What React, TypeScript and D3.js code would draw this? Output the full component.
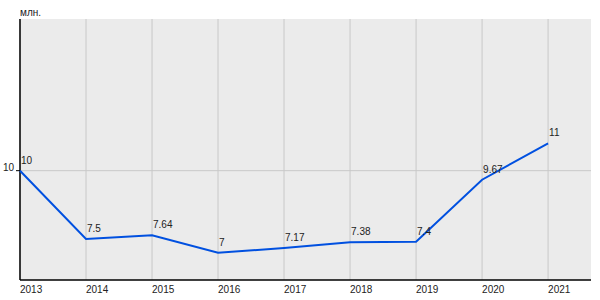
import React from "react";
import * as d3 from "d3";

const years = [2013, 2014, 2015, 2016, 2017, 2018, 2019, 2020, 2021];
const values = [10, 7.5, 7.64, 7, 7.17, 7.38, 7.4, 9.67, 11];
const valueLabels = ["10", "7.5", "7.64", "7", "7.17", "7.38", "7.4", "9.67", "11"];
const yTicks = [10];
const unitLabel = "млн.";

export default function App() {
  const W = 600, H = 300;
  const left = 20, right = 591, top = 19, bottom = 280;
  const x = d3.scaleLinear().domain([2013, 2021.65]).range([left, right]);
  const y = d3.scaleLinear().domain([6, 15.55]).range([bottom, top]);
  const line = d3.line<number>().x((_, i) => x(years[i])).y((d) => y(d));
  const font = "Arial, 'Liberation Sans', sans-serif";
  return (
    <svg width={W} height={H} style={{ position: "absolute", left: 0, top: 0 }} fontFamily={font}>
      <rect x={0} y={0} width={W} height={H} fill="#fff" />
      <rect x={left} y={top} width={right - left} height={bottom - top} fill="#ebebeb" />
      {years.map((yr) => (
        <line key={yr} x1={x(yr)} x2={x(yr)} y1={top} y2={bottom} stroke="#c8c8c8" strokeWidth={1} />
      ))}
      {yTicks.map((t) => (
        <line key={t} x1={left} x2={right} y1={y(t)} y2={y(t)} stroke="#c8c8c8" strokeWidth={1} />
      ))}
      <line x1={left} x2={left} y1={top} y2={bottom} stroke="#000" strokeWidth={1.5} />
      <line x1={left} x2={right} y1={bottom} y2={bottom} stroke="#000" strokeWidth={1.5} />
      {yTicks.map((t) => (
        <g key={t}>
          <line x1={left - 4} x2={left} y1={y(t)} y2={y(t)} stroke="#000" strokeWidth={1} />
          <text x={left - 6} y={y(t) - 0} textAnchor="end" fontSize={10} fill="#222">{t}</text>
        </g>
      ))}
      {years.map((yr) => (
        <text key={yr} x={x(yr)} y={bottom + 13} fontSize={10} fill="#222">{yr}</text>
      ))}
      <text x={left} y={16} fontSize={10} fill="#222">{unitLabel}</text>
      <path d={line(values) || ""} fill="none" stroke="#0050e0" strokeWidth={2} />
      {values.map((v, i) => (
        <text key={i} x={x(years[i]) + 1} y={y(v) - 7} fontSize={10} fill="#222">{valueLabels[i]}</text>
      ))}
    </svg>
  );
}
